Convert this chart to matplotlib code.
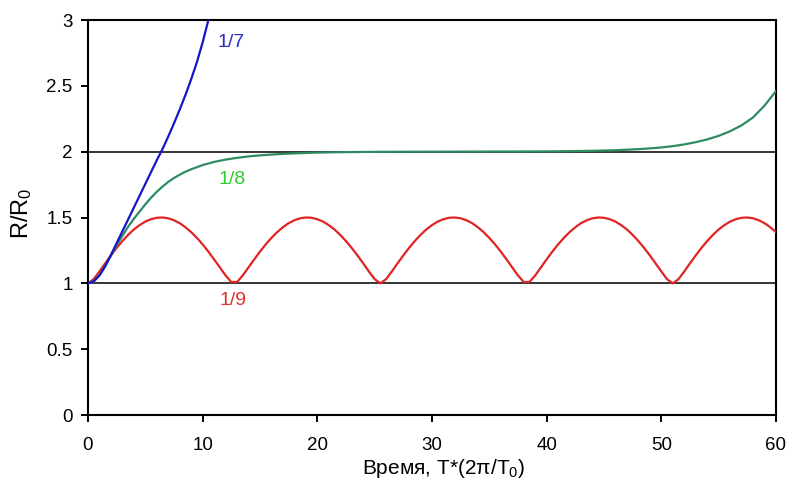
import matplotlib
matplotlib.use("Agg")
import matplotlib.pyplot as plt

plt.rcParams['font.family'] = ['Liberation Sans', 'DejaVu Sans']
plt.rcParams['mathtext.fontset'] = 'custom'
plt.rcParams['mathtext.rm'] = 'Liberation Sans'
plt.rcParams['mathtext.it'] = 'Liberation Sans'

# ---- data ----
blue_t = [0, 0.5, 1, 1.5, 2, 2.5, 3, 3.5, 4, 4.5, 5, 5.5, 6, 6.5, 7, 7.5, 8, 8.5, 9, 9.5, 10, 10.5, 11]
blue_r = [1.0, 1.015, 1.06, 1.13, 1.215, 1.305, 1.395, 1.485, 1.575, 1.665, 1.755, 1.845, 1.935, 2.02,
          2.115, 2.215, 2.32, 2.43, 2.55, 2.68, 2.83, 3.0, 3.18]

green_t = [0, 0.5, 1, 1.5, 2, 2.5, 3, 3.5, 4, 4.5, 5, 5.5, 6, 6.5, 7, 7.5, 8, 8.5, 9, 10, 11, 12, 13, 14,
           15, 16, 17, 18, 19, 20, 22, 24, 26, 30, 35, 40, 42, 44, 46, 47, 48, 49, 50, 51, 52, 53, 54,
           55, 56, 57, 58, 59, 60]
green_r = [1.0, 1.015, 1.06, 1.13, 1.21, 1.29, 1.36, 1.43, 1.49, 1.545, 1.60, 1.65, 1.695, 1.735, 1.77,
           1.80, 1.825, 1.848, 1.866, 1.898, 1.922, 1.940, 1.953, 1.964, 1.972, 1.978, 1.983, 1.987,
           1.990, 1.993, 1.996, 1.998, 1.999, 2.0, 2.001, 2.002, 2.004, 2.0065, 2.011, 2.015, 2.019,
           2.025, 2.032, 2.042, 2.055, 2.072, 2.093, 2.12, 2.155, 2.20, 2.26, 2.35, 2.46]

red_t = [i * 0.5 for i in range(121)]
red_r = [1.000, 1.032, 1.090, 1.152, 1.212, 1.269, 1.321, 1.368, 1.409, 1.442, 1.469, 1.487, 1.498,
         1.500, 1.494, 1.479, 1.457, 1.426, 1.389, 1.345, 1.296, 1.241, 1.182, 1.121, 1.060, 1.010,
         1.010, 1.060, 1.121, 1.182, 1.241, 1.296, 1.345, 1.389, 1.426, 1.457, 1.479, 1.494, 1.500,
         1.498, 1.487, 1.469, 1.442, 1.409, 1.368, 1.321, 1.269, 1.212, 1.152, 1.090, 1.032,
         1.000,
         1.032, 1.090, 1.152, 1.212, 1.269, 1.321, 1.368, 1.409, 1.442, 1.469, 1.487, 1.498,
         1.500, 1.494, 1.479, 1.457, 1.426, 1.389, 1.345, 1.296, 1.241, 1.182, 1.121, 1.060, 1.010,
         1.010, 1.060, 1.121, 1.182, 1.241, 1.296, 1.345, 1.389, 1.426, 1.457, 1.479, 1.494, 1.500,
         1.498, 1.487, 1.469, 1.442, 1.409, 1.368, 1.321, 1.269, 1.212, 1.152, 1.090, 1.032,
         1.000,
         1.032, 1.090, 1.152, 1.212, 1.269, 1.321, 1.368, 1.409, 1.442, 1.469, 1.487, 1.498,
         1.500, 1.494, 1.479, 1.457, 1.426, 1.389]

ref_levels = [1, 2]
x_ticks = [0, 10, 20, 30, 40, 50, 60]
y_ticks = [0, 0.5, 1, 1.5, 2, 2.5, 3]
y_tick_labels = ["0", "0.5", "1", "1.5", "2", "2.5", "3"]
labels = ["1/7", "1/8", "1/9"]
label_pos = [(12.5, 2.83), (12.6, 1.785), (12.65, 0.87)]

# ---- figure ----
fig = plt.figure(figsize=(7.89, 4.82), dpi=100)
ax = fig.add_axes([0.1115, 0.139, 0.872, 0.8195])

for lv in ref_levels:
    ax.axhline(lv, color='black', lw=1.1, zorder=1)

ax.plot(red_t, red_r, color='#e02424', lw=1.6, zorder=3)
ax.plot(green_t, green_r, color='#2e8b62', lw=1.6, zorder=3)
ax.plot(blue_t, blue_r, color='#1616c8', lw=1.6, zorder=3)

label_colors = ['#2a2acc', '#2ecc2e', '#e03030']
for txt, (lx, ly), c in zip(labels, label_pos, label_colors):
    ax.text(lx, ly, txt, color=c, fontsize=14, ha='center', va='center')

ax.set_xlim(0, 60)
ax.set_ylim(0, 3)
ax.set_xticks(x_ticks)
ax.set_xticklabels([str(v) for v in x_ticks])
ax.set_yticks(y_ticks)
ax.set_yticklabels(y_tick_labels)

for s in ax.spines.values():
    s.set_linewidth(1.5)
    s.set_color('black')
ax.tick_params(direction='out', length=5, width=1.4, labelsize=13.5, pad=6)
ax.tick_params(axis='x', pad=11)

ax.set_xlabel('Время, T*(2π/T$_0$)', fontsize=15)
ax.xaxis.set_label_coords(0.5175, -0.106)
ax.set_ylabel('R/R$_0$', fontsize=17)
ax.yaxis.set_label_coords(-0.078, 0.511)

fig.savefig('out.png', dpi=100)
